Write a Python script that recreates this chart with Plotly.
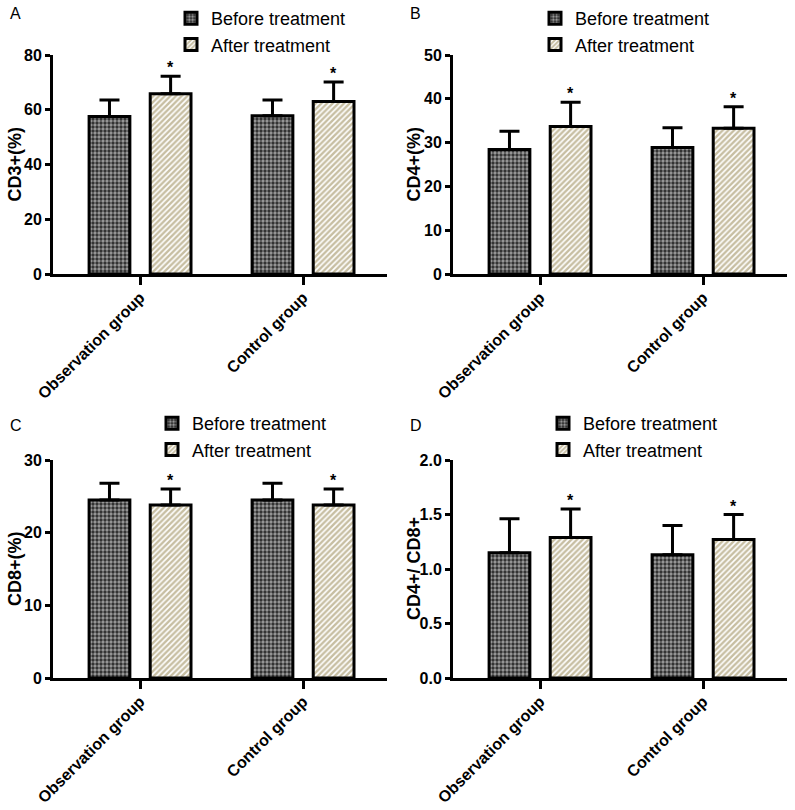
#!/bin/env python
"""
Four-panel bar chart: T lymphocyte subsets before / after treatment
"""
import plotly.graph_objects as go
from plotly.subplots import make_subplots

groups = ["Observation group", "Control group"]
series_names = ["Before treatment", "After treatment"]

# panel A - CD3+
cd3_before = [57.5, 57.8]
cd3_before_sd = [6.1, 5.8]
cd3_after = [65.8, 63.0]
cd3_after_sd = [6.4, 7.1]

# panel B - CD4+
cd4_before = [28.4, 28.9]
cd4_before_sd = [4.2, 4.5]
cd4_after = [33.7, 33.3]
cd4_after_sd = [5.5, 4.9]

# panel C - CD8+
cd8_before = [24.5, 24.5]
cd8_before_sd = [2.3, 2.3]
cd8_after = [23.8, 23.8]
cd8_after_sd = [2.2, 2.2]

# panel D - CD4+/CD8+
ratio_before = [1.15, 1.13]
ratio_before_sd = [0.31, 0.27]
ratio_after = [1.29, 1.27]
ratio_after_sd = [0.26, 0.23]

FONT = "Arial, Liberation Sans, sans-serif"

panels = [
    # letter, y title, before, sd, after, sd, y max, dtick, tick format
    ("A", "CD3+(%)", cd3_before, cd3_before_sd, cd3_after, cd3_after_sd, 80, 20, "d"),
    ("B", "CD4+(%)", cd4_before, cd4_before_sd, cd4_after, cd4_after_sd, 50, 10, "d"),
    ("C", "CD8+(%)", cd8_before, cd8_before_sd, cd8_after, cd8_after_sd, 30, 10, "d"),
    ("D", "CD4+/ CD8+", ratio_before, ratio_before_sd, ratio_after, ratio_after_sd, 2, 0.5, ".1f"),
]

# pixel layout of the page (converted to paper fractions below)
W, H = 795, 810
x_px = [(53, 387), (453, 787)]
y_px = [(55, 274), (460, 678)]
legend_px = [(171, 0), (535, 0), (152, 405), (543, 405)]
letter_px = [(8, 14), (408, 14), (8, 425), (408, 425)]
ytitle_x_px = [15, 414]

before_marker = dict(
    color="#2a2a2a",
    line=dict(color="black", width=3),
    pattern=dict(shape=".", fgcolor="white", bgcolor="#2a2a2a",
                 size=4, solidity=0.55, fillmode="overlay"),
)
after_marker = dict(
    color="white",
    line=dict(color="black", width=3),
    pattern=dict(shape="/", fgcolor="#8f7d45", bgcolor="white",
                 size=4, solidity=0.6, fillmode="overlay"),
)

fig = make_subplots(rows=2, cols=2)
annotations = []

for i, (letter, y_title, before, before_sd, after, after_sd, y_max, dtick, fmt) in enumerate(panels):
    row, col = i // 2 + 1, i % 2 + 1
    legend_name = "legend" if i == 0 else "legend%d" % (i + 1)
    axis_suffix = "" if i == 0 else str(i + 1)

    for name, values, sd, marker in [
        (series_names[0], before, before_sd, before_marker),
        (series_names[1], after, after_sd, after_marker),
    ]:
        fig.add_trace(
            go.Bar(
                x=groups,
                y=values,
                name=name,
                marker=marker,
                legend=legend_name,
                error_y=dict(
                    type="data",
                    symmetric=False,
                    array=sd,
                    arrayminus=[0] * len(sd),
                    color="black",
                    thickness=3,
                    width=10,
                ),
            ),
            row=row, col=col
        )

    # significance marks above the "after" bars
    for j, (value, sd) in enumerate(zip(after, after_sd)):
        annotations.append(dict(
            x=j + 0.1875, y=value + sd,
            xref="x" + axis_suffix, yref="y" + axis_suffix,
            text="*", showarrow=False, yanchor="bottom", yshift=-2,
            font=dict(family=FONT, size=16, color="black", weight="bold"),
        ))

    # panel letter
    annotations.append(dict(
        x=letter_px[i][0] / W, y=1 - letter_px[i][1] / H, text=letter,
        xref="paper", yref="paper", showarrow=False,
        xanchor="left", yanchor="middle",
        font=dict(family=FONT, size=16, color="black"),
    ))

    # y axis title
    top, bottom = y_px[row - 1]
    annotations.append(dict(
        x=ytitle_x_px[col - 1] / W, y=1 - (top + bottom) / 2 / H, text=y_title,
        xref="paper", yref="paper", showarrow=False, textangle=-90,
        xanchor="center", yanchor="middle",
        font=dict(family=FONT, size=18, color="black", weight="bold"),
    ))

    fig.update_xaxes(
        domain=[x_px[col - 1][0] / W, x_px[col - 1][1] / W],
        range=[-0.534, 1.515],
        automargin=False,
        showline=True, linecolor="black", linewidth=3,
        ticks="outside", ticklen=8, tickwidth=2.5, tickcolor="black",
        tickangle=-45, ticklabelstandoff=-3,
        tickfont=dict(family=FONT, size=16, color="black", weight="bold"),
        showgrid=False, zeroline=False,
        row=row, col=col
    )
    fig.update_yaxes(
        domain=[1 - bottom / H, 1 - top / H],
        range=[0, y_max], dtick=dtick, tickformat=fmt,
        automargin=False,
        showline=True, linecolor="black", linewidth=3,
        ticks="outside", ticklen=5, tickwidth=2.5, tickcolor="black",
        tickfont=dict(family=FONT, size=16, color="black", weight="bold"),
        showgrid=False, zeroline=False,
        row=row, col=col
    )

layout_legends = {}
for i, (lx, ly) in enumerate(legend_px):
    key = "legend" if i == 0 else "legend%d" % (i + 1)
    layout_legends[key] = dict(
        x=lx / W, y=1 - ly / H, xanchor="left", yanchor="top",
        bgcolor="rgba(0,0,0,0)",
        font=dict(family=FONT, size=18, color="black"),
        tracegroupgap=0,
    )

fig.update_layout(
    width=W, height=H,
    margin=dict(l=0, r=0, t=0, b=0),
    paper_bgcolor="white",
    plot_bgcolor="white",
    barmode="group",
    bargap=0.25,
    bargroupgap=0.333,
    annotations=annotations,
    **layout_legends
)

# drop the default page margin so the figure sits at the window's corner
fig.write_html(
    "out.html",
    config={"displayModeBar": False},
    post_script="document.body.style.margin = '0';",
)
